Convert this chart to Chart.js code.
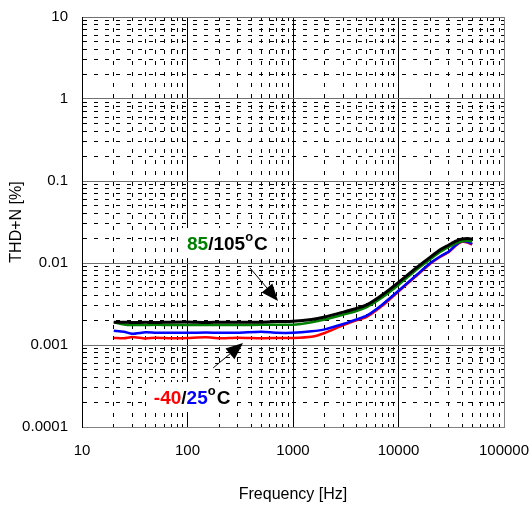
<!DOCTYPE html>
<html>
<head>
<meta charset="utf-8">
<script src="https://cdn.jsdelivr.net/npm/chart.js@4.4.1/dist/chart.umd.min.js"></script>
<style>
  html, body { margin: 0; padding: 0; background: #fff; }
  canvas { display: block; }
</style>
</head>
<body>
<canvas id="thdChart" width="531" height="505"></canvas>
<script>
// frequency points (Hz)
const freqs = [20, 25, 30, 40, 50, 70, 100, 150, 200, 300, 500, 700, 1000, 1500, 2000, 3000, 4000, 5000, 7000, 10000, 15000, 20000, 25000, 30000, 35000, 40000, 45000, 50000];

// THD+N [%] per temperature
const thd105 = [0.0019, 0.0019, 0.00188, 0.00189, 0.00188, 0.0019, 0.00191, 0.00188, 0.0019, 0.0019, 0.0019, 0.00193, 0.00195, 0.00205, 0.0022, 0.00252, 0.00279, 0.00308, 0.00407, 0.0058, 0.0089, 0.0118, 0.0146, 0.0166, 0.0185, 0.0196, 0.0199, 0.0196];
const thd85  = [0.0019, 0.00178, 0.00175, 0.00175, 0.00176, 0.00175, 0.00175, 0.00176, 0.00175, 0.00175, 0.00176, 0.00176, 0.00177, 0.0019, 0.00205, 0.00235, 0.0026, 0.0029, 0.0038, 0.0054, 0.0084, 0.0111, 0.0137, 0.0157, 0.0174, 0.0184, 0.0187, 0.0183];
const thd25  = [0.00149, 0.00145, 0.00137, 0.00143, 0.00141, 0.00141, 0.00141, 0.00142, 0.00141, 0.00141, 0.00145, 0.00141, 0.00141, 0.00147, 0.00155, 0.0018, 0.00205, 0.00228, 0.0031, 0.00458, 0.00724, 0.01, 0.0121, 0.0138, 0.0166, 0.0185, 0.0181, 0.0171];
const thdM40 = [0.00122, 0.00121, 0.00125, 0.0012, 0.00123, 0.00121, 0.00122, 0.00124, 0.00121, 0.00123, 0.00121, 0.00122, 0.00122, 0.00126, 0.0014, 0.00175, 0.002, 0.0022, 0.003, 0.0045, 0.0071, 0.0098, 0.0119, 0.0136, 0.0163, 0.0181, 0.0178, 0.0168];

// axis ranges / labelled ticks
const xTickLabels = [10, 100, 1000, 10000, 100000];
const yTickLabels = [0.0001, 0.001, 0.01, 0.1, 1, 10];

// callouts: [freq, value]
const note1 = { pos: [99, 0.0175], parts: [['85', '#008000'], ['/105', '#000'], ['o', '#000', true], ['C', '#000']] };
const note2 = { pos: [48, 0.000232], parts: [['-40', '#ff0000'], ['/', '#000'], ['25', '#0000ff'], ['o', '#000', true], ['C', '#000']] };
const arrows = [
  { from: [391, 0.0087], to: [721, 0.00344] },
  { from: [175, 0.000525], to: [336, 0.00106] }
];

const FONT = "'Liberation Sans', Arial, sans-serif";

function pts(vals) {
  return freqs.map((f, i) => ({ x: f, y: vals[i] }));
}

function isMajor(v) {
  const l = Math.log10(v);
  return Math.abs(l - Math.round(l)) < 1e-6;
}

function logTicks(min, max) {
  const out = [];
  for (let e = Math.round(Math.log10(min)); e <= Math.round(Math.log10(max)); e++) {
    for (let d = 1; d <= 9; d++) {
      const v = Number((d * Math.pow(10, e)).toPrecision(4));
      if (v >= min && v <= max) out.push({ value: v });
    }
  }
  return out;
}

const notesPlugin = {
  id: 'notes',
  afterDraw(chart) {
    const { ctx, scales } = chart;
    const xs = scales.x, ys = scales.y;
    ctx.save();

    [note1, note2].forEach(n => {
      const x0 = xs.getPixelForValue(n.pos[0]);
      const y0 = ys.getPixelForValue(n.pos[1]);
      const big = 'bold 19px ' + FONT, small = 'bold 13px ' + FONT;
      let w = 0;
      n.parts.forEach(p => { ctx.font = p[2] ? small : big; w += ctx.measureText(p[0]).width + (p[2] ? 1 : 0); });
      ctx.fillStyle = '#fff';
      ctx.fillRect(x0 - 6, y0 - 15, w + 12, 30);
      let x = x0;
      ctx.textBaseline = 'alphabetic';
      n.parts.forEach(p => {
        ctx.font = p[2] ? small : big;
        ctx.fillStyle = p[1];
        ctx.fillText(p[0], x, p[2] ? y0 - 2 : y0 + 7);
        x += ctx.measureText(p[0]).width + (p[2] ? 1 : 0);
      });
    });

    arrows.forEach(a => {
      const x1 = xs.getPixelForValue(a.from[0]), y1 = ys.getPixelForValue(a.from[1]);
      const x2 = xs.getPixelForValue(a.to[0]), y2 = ys.getPixelForValue(a.to[1]);
      const ang = Math.atan2(y2 - y1, x2 - x1);
      const hl = 17, hw = 7;
      ctx.strokeStyle = '#000';
      ctx.lineWidth = 1;
      ctx.beginPath();
      ctx.moveTo(x1, y1);
      ctx.lineTo(x2 - hl * Math.cos(ang), y2 - hl * Math.sin(ang));
      ctx.stroke();
      ctx.fillStyle = '#000';
      ctx.beginPath();
      ctx.moveTo(x2, y2);
      ctx.lineTo(x2 - hl * Math.cos(ang) + hw * Math.sin(ang), y2 - hl * Math.sin(ang) - hw * Math.cos(ang));
      ctx.lineTo(x2 - hl * Math.cos(ang) - hw * Math.sin(ang), y2 - hl * Math.sin(ang) + hw * Math.cos(ang));
      ctx.closePath();
      ctx.fill();
    });
    ctx.restore();
  }
};

const lineDefaults = { fill: false, pointRadius: 0, tension: 0.2, borderJoinStyle: 'round' };

const config = {
  type: 'line',
  data: {
    datasets: [
      Object.assign({ label: '105°C', data: pts(thd105), borderColor: '#000', borderWidth: 3 }, lineDefaults),
      Object.assign({ label: '85°C', data: pts(thd85), borderColor: '#008000', borderWidth: 2.5 }, lineDefaults),
      Object.assign({ label: '25°C', data: pts(thd25), borderColor: '#0000ff', borderWidth: 2.5 }, lineDefaults),
      Object.assign({ label: '-40°C', data: pts(thdM40), borderColor: '#ff0000', borderWidth: 2.5 }, lineDefaults)
    ]
  },
  options: {
    responsive: false,
    animation: false,
    layout: { padding: { top: 17, right: 27, bottom: 0, left: 0 } },
    plugins: {
      legend: { display: false },
      tooltip: { enabled: false }
    },
    scales: {
      x: {
        type: 'logarithmic',
        min: xTickLabels[0],
        max: xTickLabels[xTickLabels.length - 1],
        afterBuildTicks: s => { s.ticks = logTicks(s.min, s.max); },
        afterFit: s => { s.height = 78; s.paddingLeft = 0; s.paddingRight = 0; },
        ticks: {
          autoSkip: false,
          maxRotation: 0,
          padding: 15,
          color: '#000',
          font: { family: FONT, size: 15 },
          callback: v => (isMajor(v) && xTickLabels.includes(v)) ? String(v) : ''
        },
        grid: {
          drawTicks: false,
          color: c => !c.tick ? '#000' : (c.tick.value === 100000 ? '#808080' : '#000'),
          lineWidth: 1
        },
        border: {
          color: '#808080',
          width: 1,
          dash: c => (c.tick && !isMajor(c.tick.value)) ? [4, 7] : []
        },
        title: {
          display: true,
          text: 'Frequency [Hz]',
          color: '#000',
          font: { family: FONT, size: 16 },
          padding: { top: 0, bottom: 1 }
        }
      },
      y: {
        type: 'logarithmic',
        min: yTickLabels[0],
        max: yTickLabels[yTickLabels.length - 1],
        afterBuildTicks: s => { s.ticks = logTicks(s.min, s.max); },
        afterFit: s => { s.width = 82; s.paddingTop = 0; s.paddingBottom = 0; },
        ticks: {
          autoSkip: false,
          padding: 14,
          color: '#000',
          font: { family: FONT, size: 15 },
          callback: v => isMajor(v) ? String(v) : ''
        },
        grid: {
          drawTicks: false,
          color: c => (c.tick && isMajor(c.tick.value)) ? '#707070' : '#000',
          lineWidth: 1
        },
        border: {
          color: '#000',
          width: 1,
          dash: c => (c.tick && !isMajor(c.tick.value)) ? [4, 7] : []
        },
        title: {
          display: true,
          text: 'THD+N [%]',
          color: '#000',
          font: { family: FONT, size: 16 },
          padding: { top: 7, bottom: 0 }
        }
      }
    }
  },
  plugins: [notesPlugin]
};

window.onload = function() {
  const ctx = document.getElementById('thdChart').getContext('2d');
  new Chart(ctx, config);
};
</script>
</body>
</html>
